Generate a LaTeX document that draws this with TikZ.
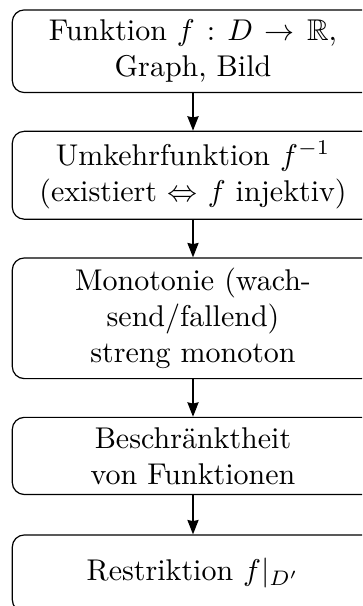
\documentclass[tikz,border=0pt]{standalone}
\usepackage{amsmath}
\usepackage{amssymb}
\usetikzlibrary{arrows.meta,positioning}
\hyphenation{wach-send}

\begin{document}
\begin{tikzpicture}[>={Stealth[length=4.8pt,width=3.7pt,inset=0.4pt]},
  stage/.style={draw, rounded corners=4pt, text width=4cm, align=center, inner sep=3.33pt},
  flow/.style={->, semithick}]
\useasboundingbox (-3.9pt,3.1pt) rectangle (116.8pt,-198.9pt);
\clip (-3.9pt,3.1pt) rectangle (116.8pt,-198.9pt);
\node[stage, anchor=north west] (fkt) at (0,0) {Funktion $f : D \to \mathbb{R}$, Graph, Bild};
\node[stage, below=4.4mm of fkt] (umk) {Umkehrfunktion $f^{-1}$ (existiert $\Leftrightarrow f$ injektiv)};
\node[stage, below=4.4mm of umk] (mon) {Monotonie (wachsend/fallend)\\ streng monoton};
\node[stage, below=4.4mm of mon] (bes) {Beschränktheit von Funktionen};
\node[stage, below=4.6mm of bes, minimum height=9mm] (res) {Restriktion $f|_{D'}$};
\draw[flow] (fkt) -- (umk);
\draw[flow] (umk) -- (mon);
\draw[flow] (mon) -- (bes);
\draw[flow] (bes) -- (res);
\end{tikzpicture}
\end{document}
